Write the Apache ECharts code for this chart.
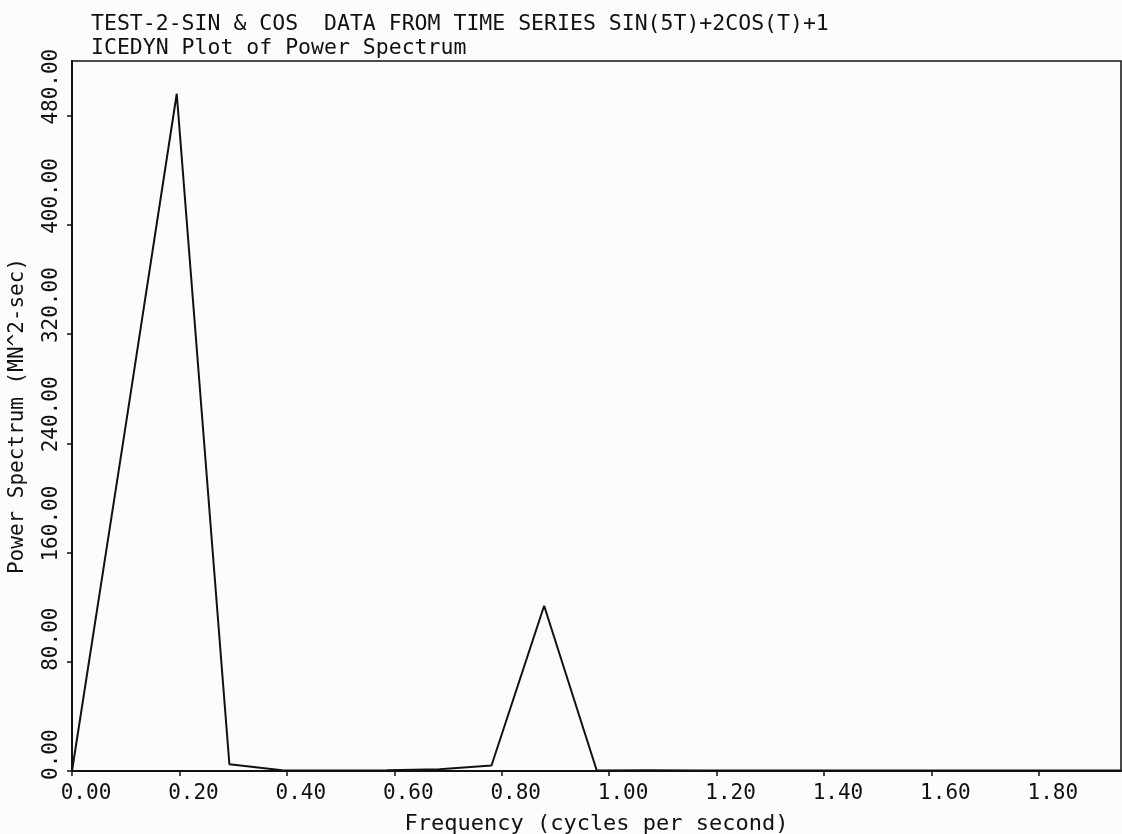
<!DOCTYPE html>
<html>
<head>
<meta charset="utf-8">
<title>ICEDYN Plot of Power Spectrum</title>
<script src="https://cdn.jsdelivr.net/npm/echarts@6/dist/echarts.min.js"></script>
<style>
    html, body {
        margin: 0;
        padding: 0;
        background: #fcfcfc;
    }

    #chart {
        width: 1122px;
        height: 834px;
    }
</style>
</head>
<body>
<div id="chart"></div>
<script>
// frequency bins (cycles per second) and power spectrum values
const frequency = [0, 0.098, 0.195, 0.293, 0.391, 0.488, 0.586, 0.684, 0.781, 0.879, 0.977,
    1.074, 1.172, 1.270, 1.367, 1.465, 1.563, 1.660, 1.758, 1.855, 1.953];
const power = [0, 248, 496, 5, 0.6, 0.4, 0.6, 1.2, 4, 121, 0.4,
    0.5, 0.4, 0.4, 0.3, 0.3, 0.3, 0.3, 0.3, 0.3, 0.3];

const xTicks = [0, 0.2, 0.4, 0.6, 0.8, 1.0, 1.2, 1.4, 1.6, 1.8];
const yTicks = [0, 80, 160, 240, 320, 400, 480];

const titleLines = [
    'TEST-2-SIN & COS  DATA FROM TIME SERIES SIN(5T)+2COS(T)+1',
    'ICEDYN Plot of Power Spectrum',
];

const font = '"DejaVu Sans Mono", "Liberation Mono", monospace';
const ink = '#111111';

const chart = echarts.init(document.getElementById('chart'));

const option = {
    backgroundColor: '#fcfcfc',
    animation: false,
    title: {
        text: titleLines.join('\n'),
        left: 86,
        top: 7,
        textStyle: {
            fontFamily: font,
            fontSize: 21.5,
            fontWeight: 'normal',
            lineHeight: 24,
            color: ink,
        },
    },
    grid: {
        left: 72,
        right: 1,
        top: 61,
        bottom: 63,
        outerBoundsMode: 'none',
        show: true,
        borderColor: ink,
        borderWidth: 1.5,
        backgroundColor: 'transparent',
    },
    xAxis: {
        type: 'value',
        min: 0,
        max: frequency[frequency.length - 1],
        name: 'Frequency (cycles per second)',
        nameLocation: 'middle',
        nameGap: 42,
        nameTextStyle: {
            fontFamily: font,
            fontSize: 22,
            color: ink,
        },
        axisLine: {
            onZero: false,
            lineStyle: {color: ink, width: 2},
        },
        axisTick: {
            show: true,
            inside: false,
            length: 5,
            customValues: xTicks,
            lineStyle: {color: ink, width: 1.5},
        },
        axisLabel: {
            customValues: xTicks,
            formatter: (v) => v.toFixed(2),
            fontFamily: font,
            fontSize: 21,
            color: ink,
            margin: 12,
            align: 'center',
            padding: [0, 0, 0, 28],
        },
        splitLine: {show: false},
    },
    yAxis: {
        type: 'value',
        min: 0,
        max: 520,
        name: 'Power Spectrum (MN^2-sec)',
        nameLocation: 'middle',
        nameRotate: 90,
        nameGap: 44,
        nameTextStyle: {
            fontFamily: font,
            fontSize: 21,
            color: ink,
        },
        axisLine: {
            show: true,
            onZero: false,
            lineStyle: {color: ink, width: 2},
        },
        axisTick: {
            show: true,
            inside: false,
            length: 5,
            customValues: yTicks,
            lineStyle: {color: ink, width: 1.5},
        },
        axisLabel: {
            customValues: yTicks,
            formatter: (v) => v.toFixed(2),
            rotate: 90,
            align: 'left',
            verticalAlign: 'bottom',
            padding: [0, 0, 0, -9],
            margin: 10,
            fontFamily: font,
            fontSize: 21,
            color: ink,
        },
        splitLine: {show: false},
    },
    series: [
        {
            type: 'line',
            data: frequency.map((f, i) => [f, power[i]]),
            showSymbol: false,
            lineStyle: {color: ink, width: 2},
        },
    ],
};

chart.setOption(option);
</script>
</body>
</html>
